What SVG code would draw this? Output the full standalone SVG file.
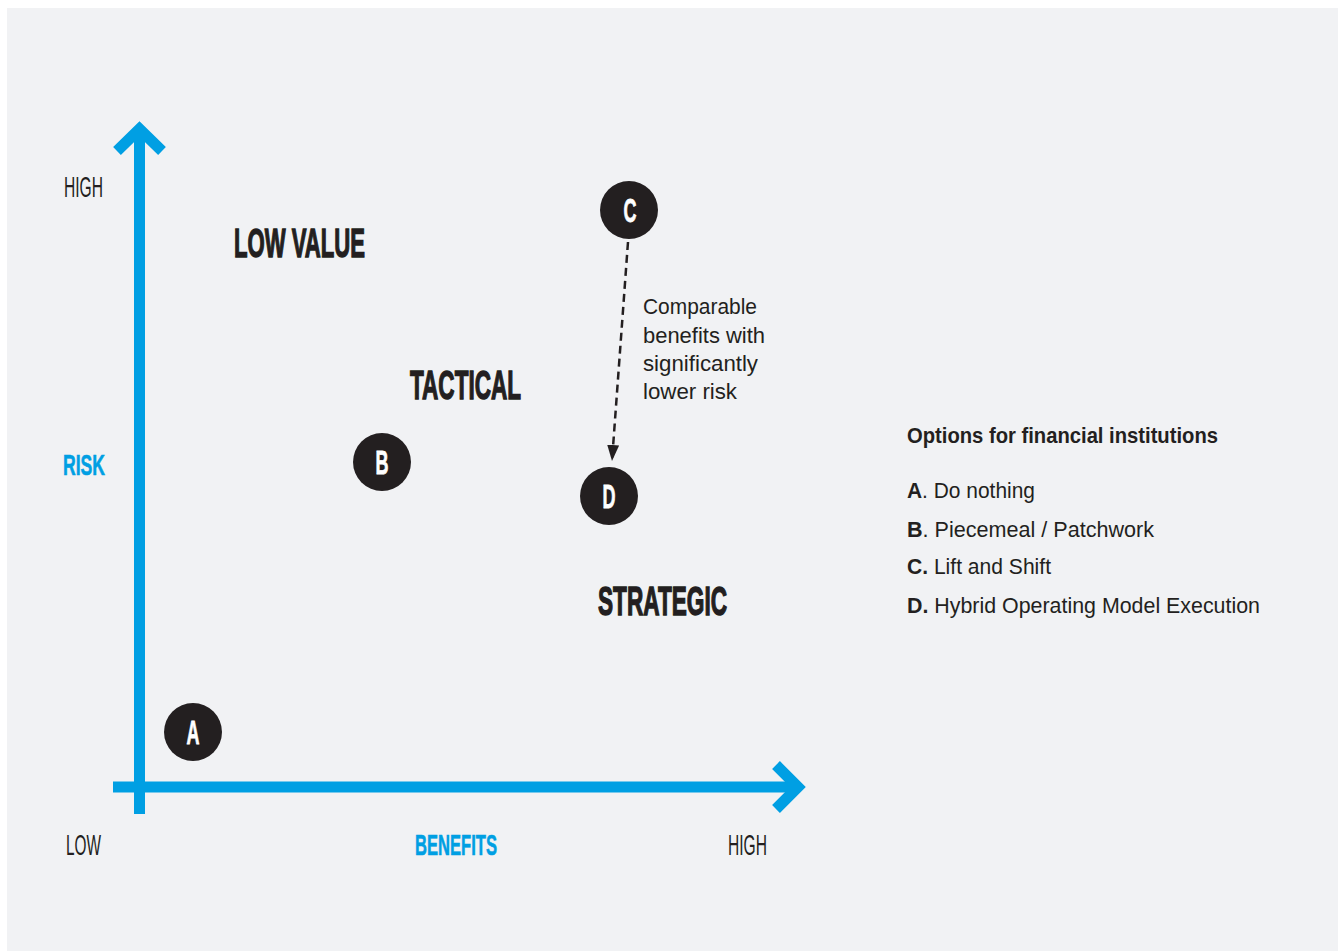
<svg xmlns="http://www.w3.org/2000/svg" width="1338" height="951" viewBox="0 0 1338 951">
<style>
.t{font-family:"Liberation Sans",Arial,sans-serif;fill:#231f20}
.h{font-weight:bold}
.ax{font-size:30px}
.blue{fill:#009fe3;font-weight:bold;stroke:#009fe3;stroke-width:0.6}
.zone{font-size:41px;font-weight:bold;stroke:#231f20;stroke-width:1.4}
.lt{font-size:34px;font-weight:bold;fill:#ffffff;stroke:#ffffff;stroke-width:0.8;text-anchor:middle}
.note{font-size:22px}
.leg{font-size:22px}
.axis{stroke:#009fe3;stroke-width:11;fill:none;stroke-linejoin:miter;stroke-miterlimit:10}
.circ{fill:#231f20}
</style>
<defs>
<marker id="ah" viewBox="0 0 16 12" refX="16" refY="6" markerWidth="16" markerHeight="12" markerUnits="userSpaceOnUse" orient="auto">
<path d="M0,0 L16,6 L0,12 Z" fill="#231f20"/>
</marker>
</defs>
<rect x="0" y="0" width="1338" height="951" fill="#ffffff"/>
<rect x="7" y="8" width="1331" height="943" fill="#f1f2f4"/>

<g id="axes">
<line class="axis" x1="139.5" y1="814" x2="139.5" y2="132"/>
<polyline class="axis" points="117,151 139.5,129 162,151"/>
<line class="axis" x1="113" y1="787" x2="796" y2="787"/>
<polyline class="axis" points="776,765 798,787 776,809"/>
</g>

<g id="axis-labels">
<text class="t ax" x="64" y="197" textLength="39" lengthAdjust="spacingAndGlyphs">HIGH</text>
<text class="t ax blue" x="63" y="475" textLength="42" lengthAdjust="spacingAndGlyphs">RISK</text>
<text class="t ax" x="66" y="855" textLength="35" lengthAdjust="spacingAndGlyphs">LOW</text>
<text class="t ax blue" x="415" y="855" textLength="82" lengthAdjust="spacingAndGlyphs">BENEFITS</text>
<text class="t ax" x="728" y="855" textLength="39" lengthAdjust="spacingAndGlyphs">HIGH</text>
</g>

<g id="zones">
<text class="t zone" x="234" y="257" font-size="42" textLength="131" lengthAdjust="spacingAndGlyphs">LOW VALUE</text>
<text class="t zone" x="410" y="399" textLength="111" lengthAdjust="spacingAndGlyphs">TACTICAL</text>
<text class="t zone" x="598" y="615" textLength="129" lengthAdjust="spacingAndGlyphs">STRATEGIC</text>
</g>

<g id="connectors">
<line x1="628" y1="242" x2="612" y2="461" stroke="#231f20" stroke-width="2.5" stroke-dasharray="8,5" marker-end="url(#ah)"/>
</g>

<g id="node-A">
<circle class="circ" cx="193" cy="732" r="29"/>
<text class="t lt" x="193" y="744" textLength="13" lengthAdjust="spacingAndGlyphs">A</text>
</g>
<g id="node-B">
<circle class="circ" cx="382" cy="462" r="29"/>
<text class="t lt" x="382" y="474" textLength="13" lengthAdjust="spacingAndGlyphs">B</text>
</g>
<g id="node-C">
<circle class="circ" cx="629" cy="210" r="29"/>
<text class="t lt" x="630" y="222" textLength="13" lengthAdjust="spacingAndGlyphs">C</text>
</g>
<g id="node-D">
<circle class="circ" cx="609" cy="496" r="29"/>
<text class="t lt" x="609" y="508" textLength="13" lengthAdjust="spacingAndGlyphs">D</text>
</g>

<g id="note">
<text class="t note" x="643" y="314" textLength="114" lengthAdjust="spacingAndGlyphs">Comparable</text>
<text class="t note" x="643" y="343" textLength="122" lengthAdjust="spacingAndGlyphs">benefits with</text>
<text class="t note" x="643" y="371" textLength="115" lengthAdjust="spacingAndGlyphs">significantly</text>
<text class="t note" x="643" y="399" textLength="94" lengthAdjust="spacingAndGlyphs">lower risk</text>
</g>

<g id="legend">
<text class="t leg h" x="907" y="443" textLength="311" lengthAdjust="spacingAndGlyphs">Options for financial institutions</text>
<text class="t leg" x="907" y="498" textLength="128" lengthAdjust="spacingAndGlyphs"><tspan class="h">A</tspan>. Do nothing</text>
<text class="t leg" x="907" y="537" textLength="247" lengthAdjust="spacingAndGlyphs"><tspan class="h">B</tspan>. Piecemeal / Patchwork</text>
<text class="t leg" x="907" y="574" textLength="144" lengthAdjust="spacingAndGlyphs"><tspan class="h">C.</tspan> Lift and Shift</text>
<text class="t leg" x="907" y="613" textLength="353" lengthAdjust="spacingAndGlyphs"><tspan class="h">D.</tspan> Hybrid Operating Model Execution</text>
</g>
</svg>
